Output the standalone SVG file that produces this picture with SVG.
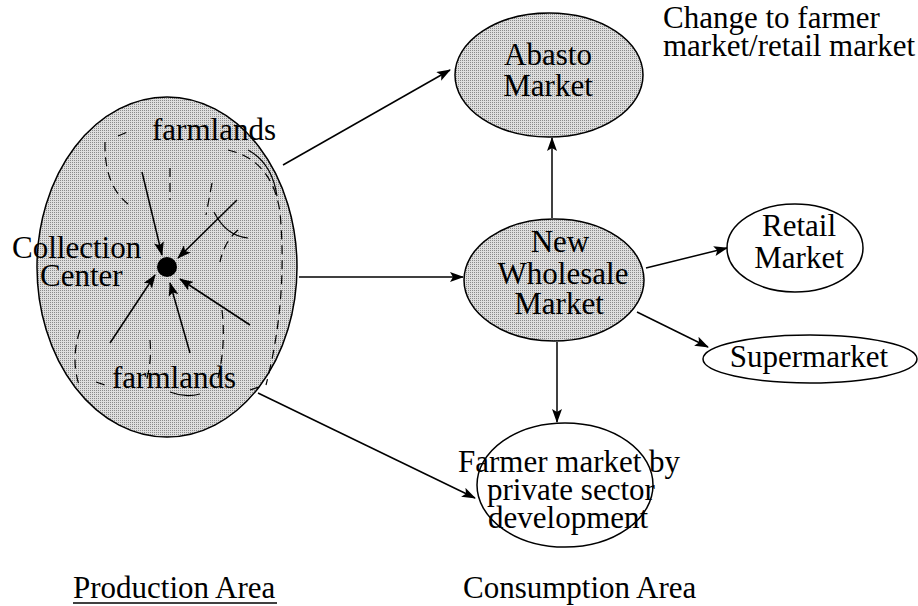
<svg xmlns="http://www.w3.org/2000/svg" width="918" height="606" viewBox="0 0 918 606">
<defs>
<pattern id="dots" width="2" height="2" patternUnits="userSpaceOnUse">
<rect width="2" height="2" fill="#dedede"/>
<rect width="1" height="1" fill="#8a8a8a"/>
</pattern>
<marker id="ah" viewBox="0 0 14 10" refX="13" refY="5" markerWidth="14" markerHeight="10" markerUnits="userSpaceOnUse" orient="auto">
<path d="M0,0 L14,5 L0,10 L3,5 Z" fill="#000"/>
</marker>
</defs>
<style>
text{font-family:"Liberation Serif","Times New Roman",serif;font-size:31px;fill:#000}
.shaded{fill:url(#dots);stroke:#000;stroke-width:1.5}
.plain{fill:#fff;stroke:#000;stroke-width:1.5}
.conn{fill:none;stroke:#000;stroke-width:1.5;marker-end:url(#ah)}
.dash{fill:none;stroke:#000;stroke-width:1.2;stroke-dasharray:9 6}
.arc{fill:none;stroke:#000;stroke-width:1.2}
.mid{text-anchor:middle}
</style>

<g id="production-area">
<ellipse class="shaded" cx="167" cy="267" rx="130" ry="170"/>
<path class="dash" d="M105,142 Q104,185 128,204"/>
<path class="dash" d="M118,136 L132,130"/>
<path class="dash" d="M228,150 Q272,160 280,212 Q288,300 266,385"/>
<path class="arc" d="M248,150 Q272,163 277,196"/>
<path class="arc" d="M214,212 Q226,236 248,238"/>
<path class="dash" d="M238,230 Q224,242 220,262"/>
<path class="dash" d="M170,168 L170,200"/>
<path class="dash" d="M212,183 L206,215"/>
<path class="dash" d="M80,330 Q70,360 80,388"/>
<path class="dash" d="M150,340 Q152,362 146,382"/>
<path class="dash" d="M222,310 Q226,345 218,378"/>
<path class="dash" d="M250,390 L262,386"/>
<path class="arc" d="M170,392 Q185,398 200,394"/>
<path class="dash" d="M96,382 L108,386"/>
<path class="conn" d="M142,172 L162,255"/>
<path class="conn" d="M237,200 L178,258"/>
<path class="conn" d="M110,343 L155,275"/>
<path class="conn" d="M190,353 L170,283"/>
<path class="conn" d="M250,325 L180,279"/>
<circle cx="167" cy="267" r="10" fill="#000"/>
<text x="152" y="140">farmlands</text>
<text x="112" y="388">farmlands</text>
<text x="12" y="258">Collection</text>
<text x="40" y="286">Center</text>
</g>

<g id="abasto-market">
<ellipse class="shaded" cx="549" cy="75" rx="94" ry="62"/>
<text x="548" y="65" class="mid">Abasto</text>
<text x="548" y="96" class="mid">Market</text>
</g>

<g id="abasto-note">
<text x="663" y="28">Change to farmer</text>
<text x="663" y="56">market/retail market</text>
</g>

<g id="new-wholesale-market">
<ellipse class="shaded" cx="554" cy="280" rx="90" ry="61"/>
<text x="560" y="252" class="mid">New</text>
<text x="563" y="284" class="mid">Wholesale</text>
<text x="559" y="314" class="mid">Market</text>
</g>

<g id="retail-market">
<ellipse class="plain" cx="795" cy="248" rx="68" ry="44"/>
<text x="799" y="236" class="mid">Retail</text>
<text x="799" y="268" class="mid">Market</text>
</g>

<g id="supermarket">
<ellipse class="plain" cx="810" cy="359" rx="107" ry="24"/>
<text x="809" y="367" class="mid">Supermarket</text>
</g>

<g id="farmer-market">
<ellipse class="plain" cx="565" cy="485" rx="88" ry="62"/>
<text x="458" y="472">Farmer market by</text>
<text x="487" y="500">private sector</text>
<text x="488" y="528">development</text>
</g>

<g id="labels">
<text x="73" y="598">Production Area</text>
<line x1="73" y1="603" x2="277" y2="603" stroke="#000" stroke-width="1.5"/>
<text x="463" y="598">Consumption Area</text>
</g>

<g id="connectors">
<path class="conn" d="M283,165 L450,70"/>
<path class="conn" d="M299,277 L463,277"/>
<path class="conn" d="M258,393 L475,498"/>
<path class="conn" d="M552,218 L552,138"/>
<path class="conn" d="M646,268 L727,248"/>
<path class="conn" d="M637,312 L708,347"/>
<path class="conn" d="M557,342 L557,422"/>
</g>
</svg>
